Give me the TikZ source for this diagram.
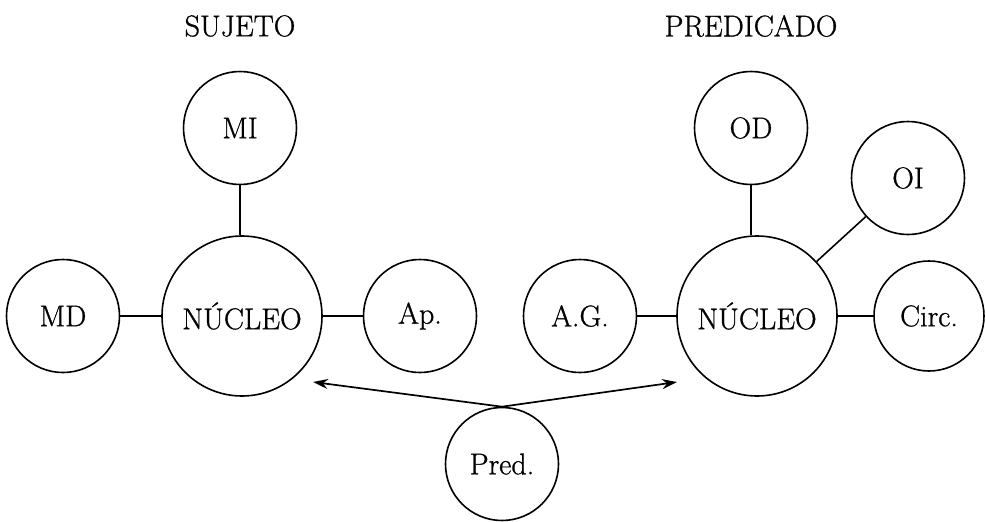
\documentclass[tikz,border=0pt]{standalone}
\usepackage{fontspec}
\setmainfont{Latin Modern Roman}
\newfontfamily\heavyfont[FakeBold=0.9]{Latin Modern Roman}
\usetikzlibrary{arrows.meta}
\begin{document}
\begin{tikzpicture}[x=1pt,y=-1pt,
  every node/.style={font=\heavyfont\fontsize{30}{32}\selectfont},
  circ/.style={draw,circle,line width=1.6pt,inner sep=0pt},
  big/.style={circ,minimum size=160pt},
  small/.style={circ,minimum size=113pt},
  link/.style={line width=1.6pt},
  arr/.style={line width=1.7pt,-{Stealth[length=15pt,width=10pt,inset=5pt]}}]
\useasboundingbox (0,0) rectangle (986,522);
\node (suj) at (240,26) {SUJETO};
\node (pre) at (751,26) {PREDICADO};
\node[small] (MI) at (240,128) {MI};
\node[big] (NL) at (242,316) {NÚCLEO};
\node[small] (MD) at (63,316) {MD};
\node[small] (Ap) at (420,316) {Ap.};
\node[small] (OD) at (751,128) {OD};
\node[small] (OI) at (908,178) {OI};
\node[small] (AG) at (580,316) {A.G.};
\node[big] (NR) at (757,316) {NÚCLEO};
\node[small,minimum size=110pt] (Ci) at (929,316) {Circ.};
\node[small] (Pr) at (502,464) {Pred.};
\coordinate (tl) at (313,382);
\coordinate (tr) at (677,382);
\draw[link] (MI.south) -- (MI.south |- NL.north);
\draw[link] (MD.east) -- (NL.west);
\draw[link] (NL.east) -- (Ap.west);
\draw[link] (OD.south) -- (OD.south |- NR.north);
\draw[link] (OI) -- (NR);
\draw[link] (AG.east) -- (NR.west);
\draw[link] (NR.east) -- (Ci.west);
\draw[arr] (Pr.north) -- (tl);
\draw[arr] (Pr.north) -- (tr);
\end{tikzpicture}
\end{document}
